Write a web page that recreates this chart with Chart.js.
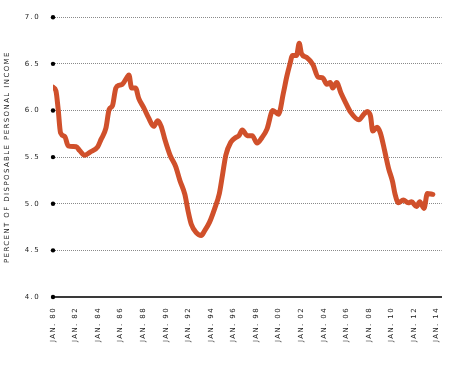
<!DOCTYPE html>
<html><head><meta charset="utf-8">
<script src="https://cdn.jsdelivr.net/npm/chart.js@4"></script>
<style>html,body{margin:0;padding:0;background:#fff}#wrap{width:455px;height:370px}</style>
</head><body><div id="wrap"><canvas id="c"></canvas></div>
<script>
const years = [1980.0,1980.26,1980.46,1980.67,1981.05,1981.34,1982.07,1982.36,1982.80,1983.38,1983.96,1984.26,1984.69,1984.98,1985.27,1985.57,1985.86,1986.15,1986.58,1986.73,1986.97,1987.32,1987.60,1988.04,1988.48,1988.92,1989.29,1989.59,1989.94,1990.38,1990.87,1991.25,1991.69,1991.98,1992.26,1992.70,1993.14,1993.44,1993.87,1994.31,1994.75,1995.03,1995.32,1995.76,1996.20,1996.49,1996.78,1997.22,1997.66,1998.09,1998.53,1998.97,1999.49,1999.99,2000.43,2000.72,2001.01,2001.24,2001.59,2001.83,2002.03,2002.47,2003.05,2003.49,2003.92,2004.27,2004.59,2004.80,2005.15,2005.52,2005.96,2006.40,2007.12,2007.56,2007.86,2008.15,2008.35,2008.73,2009.02,2009.40,2009.75,2010.10,2010.33,2010.62,2011.06,2011.49,2011.79,2012.23,2012.52,2012.89,2013.19,2013.68];
const values = [6.25,6.21,6.01,5.76,5.72,5.62,5.61,5.57,5.52,5.56,5.61,5.69,5.81,6.01,6.05,6.24,6.27,6.28,6.36,6.38,6.24,6.24,6.13,6.03,5.92,5.83,5.89,5.83,5.68,5.52,5.40,5.25,5.10,4.92,4.78,4.69,4.66,4.71,4.80,4.94,5.11,5.31,5.52,5.66,5.71,5.73,5.79,5.73,5.73,5.65,5.71,5.80,6.00,5.96,6.19,6.36,6.50,6.59,6.59,6.72,6.61,6.57,6.49,6.36,6.35,6.28,6.30,6.24,6.30,6.19,6.08,5.98,5.90,5.96,5.99,5.94,5.78,5.82,5.76,5.57,5.38,5.24,5.10,5.01,5.04,5.01,5.02,4.97,5.02,4.95,5.11,5.10];
const xTicks = [1980,1982,1984,1986,1988,1990,1992,1994,1996,1998,2000,2002,2004,2006,2008,2010,2012,2014];
const yTicks = [4.0,4.5,5.0,5.5,6.0,6.5,7.0];
const yTitle = 'PERCENT OF DISPOSABLE PERSONAL INCOME';

const FONT = {family:'"DejaVu Sans", sans-serif', size:7};
const spacing = {
  id:'spacing',
  beforeLayout(chart){ chart.ctx.letterSpacing='1.4px'; },
  beforeDraw(chart){ chart.ctx.letterSpacing='1.4px'; }
};
const dots = {
  id:'dots',
  afterDraw(chart){
    const ctx=chart.ctx, y=chart.scales.y, left=chart.chartArea.left;
    ctx.save(); ctx.fillStyle='#000';
    yTicks.forEach(v=>{ ctx.beginPath(); ctx.arc(left, y.getPixelForValue(v), 2.2, 0, Math.PI*2); ctx.fill(); });
    ctx.restore();
  }
};

new Chart(document.getElementById('c'), {
  type:'line',
  data:{ datasets:[{
    data: years.map((t,i)=>({x:t,y:values[i]})),
    borderColor:'#d0502b', borderWidth:5, pointRadius:0, fill:false,
    cubicInterpolationMode:'monotone', borderCapStyle:'round', borderJoinStyle:'round'
  }]},
  options:{
    responsive:true, maintainAspectRatio:false, animation:false,
    layout:{padding:{top:13,right:8,left:0,bottom:0}},
    plugins:{legend:{display:false}, tooltip:{enabled:false}},
    scales:{
      x:{
        type:'linear', min:1980, max:2014.45,
        afterBuildTicks(s){ s.ticks = xTicks.map(v=>({value:v})); },
        afterFit(s){ s.height = 73; },
        grid:{display:false, drawTicks:false},
        border:{display:true, color:'#3a3a3a', width:2},
        ticks:{ autoSkip:false, maxRotation:90, minRotation:90, padding:10, color:'#222', font:FONT,
          callback:(v)=>'JAN. '+String(v%100).padStart(2,'0') }
      },
      y:{
        min:4, max:7,
        afterBuildTicks(s){ s.ticks = yTicks.map(v=>({value:v})); },
        afterFit(s){ s.width = 53; },
        grid:{ drawTicks:false, color:(c)=> c.tick && c.tick.value===4 ? 'rgba(0,0,0,0)' : '#8a8a8a', lineWidth:1 },
        border:{display:false, dash:[1,1]},
        ticks:{ padding:13, color:'#222', font:FONT, callback:(v)=>v.toFixed(1) },
        title:{ display:true, text:yTitle, color:'#222', font:FONT, padding:{top:3,bottom:0} }
      }
    }
  },
  plugins:[spacing, dots]
});
</script>
</body></html>
